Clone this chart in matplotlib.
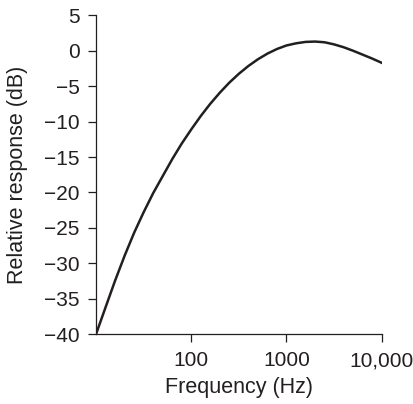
import numpy as np
import matplotlib
matplotlib.use('Agg')
import matplotlib.pyplot as plt

# response curve (Hz, dB)
freq = [10, 12.6, 15.8, 20, 25.1, 31.6, 39.8, 50.1, 63.1, 79.4, 100, 126, 158, 200, 251, 316, 398,
        501, 631, 794, 1000, 1259, 1585, 1995, 2512, 3162, 3981, 5012, 6310, 7943, 10000]
resp = [-40.0, -36.2, -32.5, -28.9, -25.7, -22.8, -20.1, -17.7, -15.3, -13.1, -11.1, -9.2, -7.5,
        -5.9, -4.5, -3.25, -2.15, -1.2, -0.4, 0.25, 0.75, 1.05, 1.25, 1.3, 1.2, 0.9, 0.5, 0.0,
        -0.55, -1.1, -1.7]

xticks = [100, 1000, 10000]
xlabels = ['100', '1000', '10,000']
yticks = list(range(-40, 6, 5))

plt.rcParams['font.family'] = ['Liberation Sans', 'DejaVu Sans']
col = '#231f20'

fig = plt.figure(figsize=(4.14, 4.04), dpi=100)
ax = fig.add_axes([0.232, 0.173, 0.69, 0.789])
ax.plot(freq, resp, color=col, lw=1.8, solid_joinstyle='round')
ax.set_xscale('log')
ax.set_xlim(10, 10000)
ax.set_ylim(-40, 5)
ax.set_xticks(xticks)
ax.set_xticklabels(xlabels)
ax.xaxis.set_minor_locator(matplotlib.ticker.NullLocator())
ax.set_yticks(yticks)
for s in ['top', 'right']:
	ax.spines[s].set_visible(False)
for s in ['left', 'bottom']:
	ax.spines[s].set_linewidth(0.9)
	ax.spines[s].set_color(col)
ax.tick_params(axis='y', length=6, width=0.9, color=col, labelsize=15, pad=6, labelcolor=col)
ax.tick_params(axis='x', length=5.5, width=0.9, color=col, labelsize=15, pad=7, labelcolor=col)
ax.set_xlabel('Frequency (Hz)', fontsize=15.5, color=col)
ax.set_ylabel('Relative response (dB)', fontsize=15.5, color=col)
ax.xaxis.set_label_coords(0.5, -0.135)
ax.yaxis.set_label_coords(-0.238, 0.5)

plt.savefig('out.png', dpi=100)
